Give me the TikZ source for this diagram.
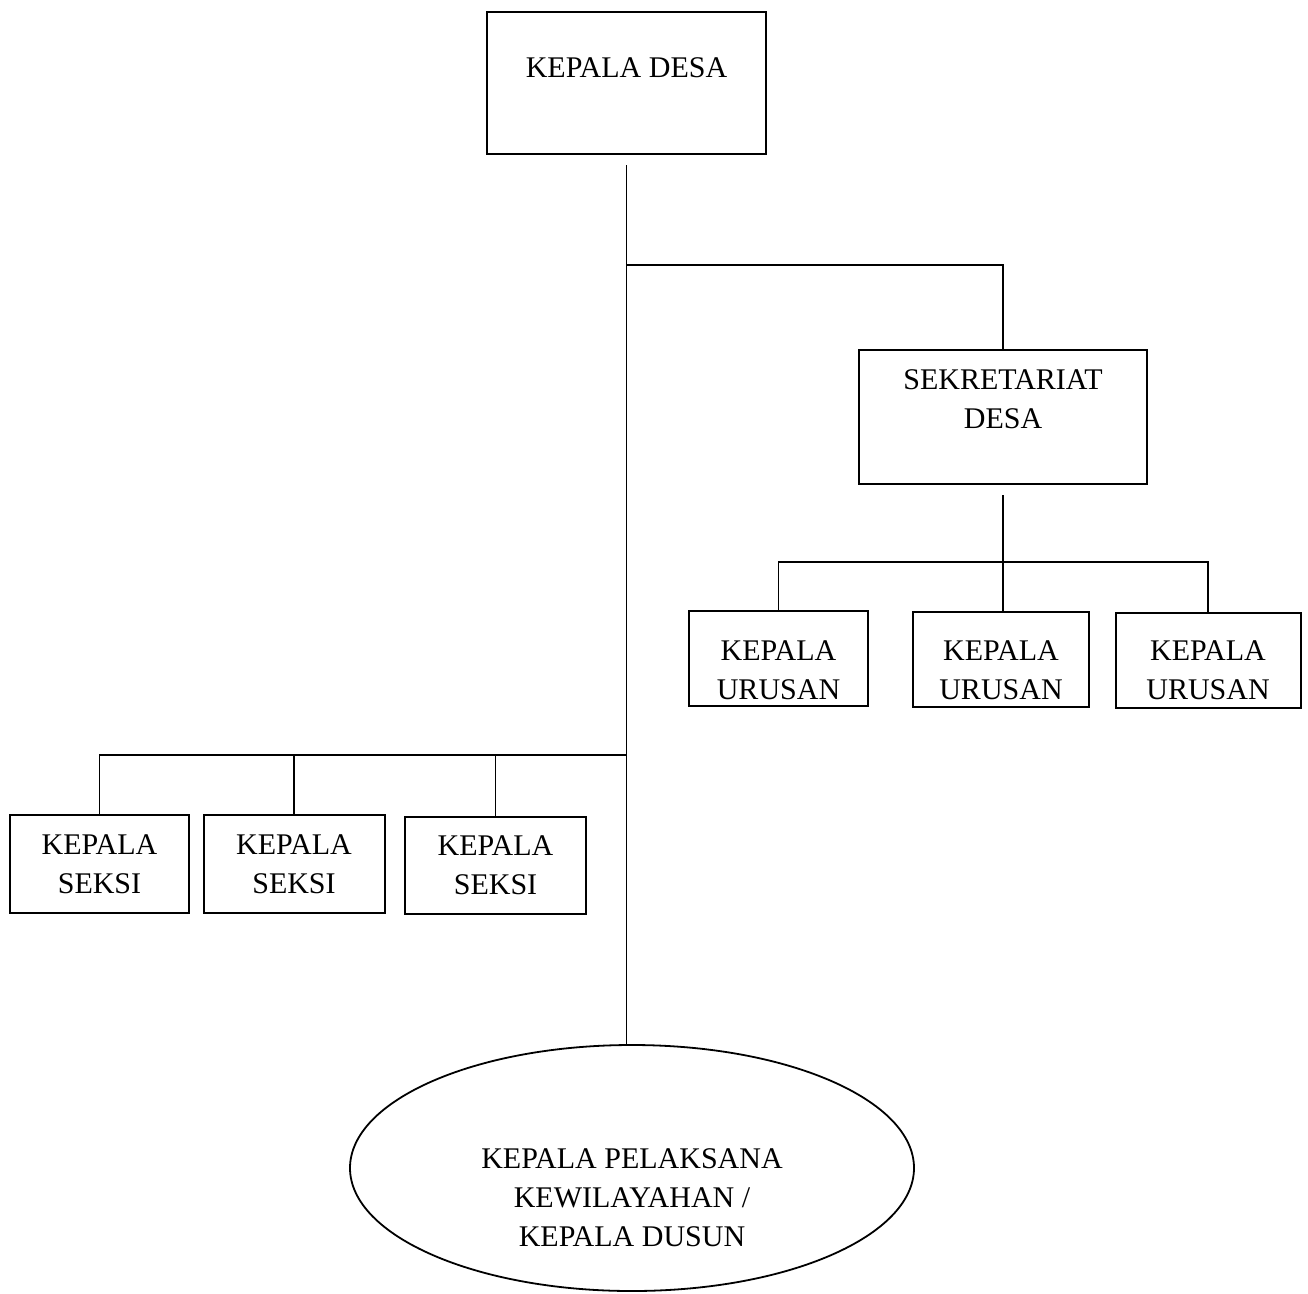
\documentclass[tikz,border=0pt]{standalone}
\usepackage{fontspec}
\setmainfont{Liberation Serif}
\usetikzlibrary{shapes.geometric}
\begin{document}
\begin{tikzpicture}[x=1pt,y=-1pt,
  box/.style={draw,line width=2pt,inner sep=0pt},
  txt/.style={align=center,inner sep=0pt,font=\fontsize{30}{39}\selectfont},
  conn/.style={line width=1.8pt}]
\useasboundingbox (0,0) rectangle (1308,1293);
% boxes
\node[box,minimum width=279,minimum height=142] (kd) at (626.5,83) {};
\node[txt] (kdt) at (626.5,68) {KEPALA DESA};
\node[box,minimum width=288,minimum height=134] (sek) at (1003,417) {};
\node[txt] (sekt) at (1003,399) {SEKRETARIAT\\DESA};
\node[box,minimum width=179,minimum height=95] (u1) at (778.5,658) {};
\node[box,minimum width=176,minimum height=95] (u2) at (1001,659) {};
\node[box,minimum width=185,minimum height=95] (u3) at (1208,660) {};
\node[txt] (u1t) at (778.5,670) {KEPALA\\URUSAN};
\node[txt] (u2t) at (1001,670) {KEPALA\\URUSAN};
\node[txt] (u3t) at (1208,670) {KEPALA\\URUSAN};
\node[box,minimum width=179,minimum height=98] (s1) at (99.5,864) {};
\node[box,minimum width=181,minimum height=98] (s2) at (294,864) {};
\node[box,minimum width=181,minimum height=97] (s3) at (495.5,865) {};
\node[txt] (s1t) at (99.5,864) {KEPALA\\SEKSI};
\node[txt] (s2t) at (294,864) {KEPALA\\SEKSI};
\node[txt] (s3t) at (495.5,865) {KEPALA\\SEKSI};
\node[draw,ellipse,line width=1.8pt,inner sep=0pt,minimum width=564,minimum height=246] (ell) at (632,1168) {};
\node[txt] (ellt) at (632,1198) {KEPALA PELAKSANA\\KEWILAYAHAN /\\KEPALA DUSUN};
% junctions
\coordinate (top) at (626.5,165);
\coordinate (j1) at (626.5,265);
\coordinate (bus1) at (626.5,755);
\coordinate (sekbot) at (1003,495);
\coordinate (bus2) at (1003,562);
% connectors
\draw[conn] (top) -- (top |- ell.north);
\draw[conn] (j1) -| (sek.north);
\draw[conn] (sekbot) -- (sekbot |- u2.north);
\draw[conn] (u1.north) |- (bus2) -| (u3.north);
\draw[conn] (s1.north) |- (bus1);
\draw[conn] (s2.north) -- (s2.north |- bus1);
\draw[conn] (s3.north) -- (s3.north |- bus1);
\end{tikzpicture}
\end{document}
